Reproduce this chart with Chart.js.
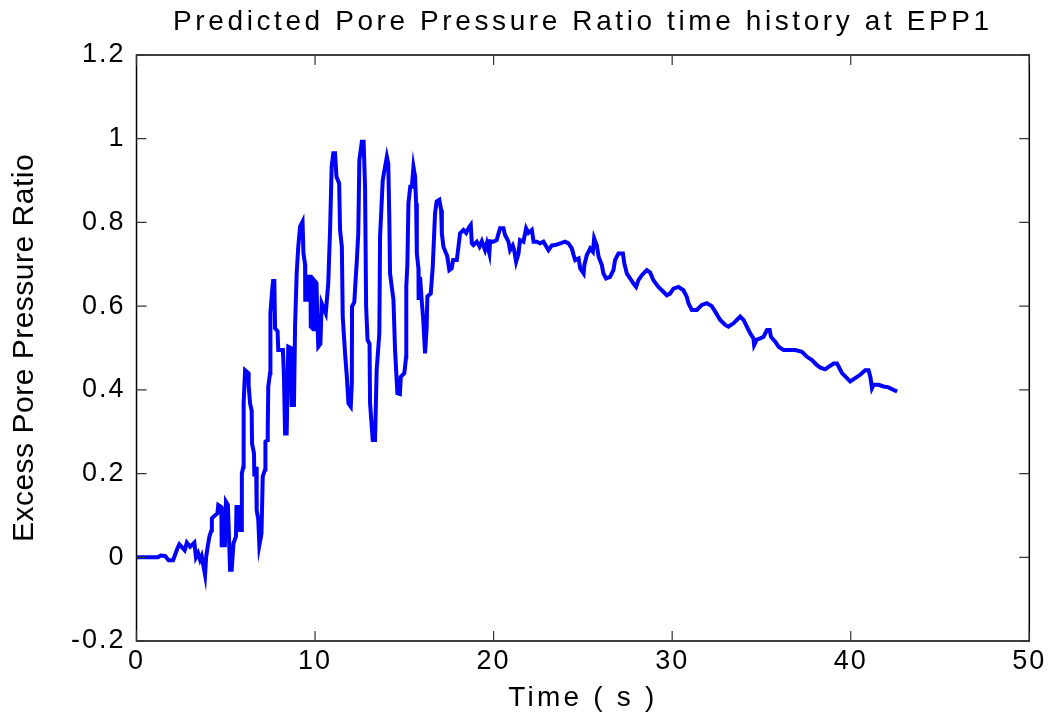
<!DOCTYPE html>
<html>
<head>
<meta charset="utf-8">
<title>Predicted Pore Pressure Ratio time history at EPP1</title>
<script src="https://cdn.jsdelivr.net/npm/chart.js@4.4.1/dist/chart.umd.min.js"></script>
<style>
  html, body { margin: 0; padding: 0; background: #fff; }
  #wrap { width: 1052px; height: 723px; }
</style>
</head>
<body>
<div id="wrap"><canvas id="eppChart" width="1052" height="723"></canvas></div>
<script>
// time (s)
const timeSec = [
  0, 1.2, 1.35, 1.6, 1.8, 2.05, 2.3, 2.4, 2.7, 2.82, 3.0, 3.24, 3.33, 3.45, 3.56, 3.65, 3.84, 3.9, 3.97,
  4.08, 4.2, 4.22, 4.53, 4.58, 4.75, 4.77, 4.95, 5.01, 5.12, 5.24, 5.33, 5.43, 5.57, 5.6, 5.78, 5.8,
  5.89, 5.9, 5.98, 6.0, 6.08, 6.27, 6.28, 6.36, 6.45, 6.47, 6.58, 6.6, 6.7, 6.73, 6.82, 6.88, 7.0,
  7.07, 7.2, 7.22, 7.33, 7.35, 7.38, 7.48, 7.5, 7.6, 7.65, 7.72, 7.76, 7.9, 7.94, 8.2, 8.26, 8.32,
  8.41, 8.5, 8.64, 8.69, 8.82, 8.88, 8.97, 9.06, 9.16, 9.3, 9.35, 9.44, 9.45, 9.6, 9.63, 9.74, 9.76,
  9.9, 9.94, 10.08, 10.12, 10.18, 10.3, 10.37, 10.6, 10.74, 10.84, 10.93, 11.02, 11.12, 11.2, 11.35,
  11.4, 11.5, 11.55, 11.68, 11.78, 11.87, 12.0, 12.06, 12.07, 12.2, 12.26, 12.33, 12.42, 12.48,
  12.62, 12.72, 12.8, 12.86, 12.94, 13.05, 13.08, 13.23, 13.36, 13.45, 13.6, 13.64, 13.79, 13.92,
  14.02, 14.1, 14.16, 14.2, 14.39, 14.48, 14.61, 14.75, 14.8, 15.0, 15.1, 15.11, 15.17, 15.23,
  15.33, 15.42, 15.51, 15.6, 15.66, 15.7, 15.79, 15.8, 15.88, 15.97, 16.06, 16.16, 16.25, 16.29,
  16.48, 16.59, 16.72, 16.81, 16.96, 17.06, 17.1, 17.19, 17.3, 17.4, 17.52, 17.65, 17.73, 17.94,
  18.03, 18.12, 18.31, 18.46, 18.59, 18.72, 18.78, 18.87, 19.06, 19.21, 19.34, 19.52, 19.62, 19.76,
  19.8, 19.99, 20.17, 20.36, 20.55, 20.64, 20.83, 20.92, 21.07, 21.15, 21.26, 21.39, 21.48, 21.67,
  21.82, 21.95, 22.14, 22.24, 22.42, 22.6, 22.79, 23.07, 23.26, 23.45, 23.73, 24.0, 24.19, 24.38,
  24.48, 24.57, 24.76, 24.85, 25.04, 25.08, 25.22, 25.41, 25.56, 25.63, 25.78, 25.88, 26.06, 26.15,
  26.3, 26.52, 26.71, 26.8, 26.99, 27.24, 27.32, 27.46, 27.65, 27.83, 27.98, 28.11, 28.3, 28.58,
  28.77, 28.95, 29.23, 29.42, 29.7, 29.88, 30.07, 30.35, 30.63, 30.82, 30.91, 31.1, 31.38, 31.66,
  31.94, 32.22, 32.41, 32.69, 32.97, 33.15, 33.43, 33.62, 33.81, 34.0, 34.18, 34.37, 34.55, 34.59,
  34.74, 34.93, 35.12, 35.31, 35.46, 35.53, 35.77, 35.96, 36.24, 36.61, 36.89, 37.27, 37.55, 37.83,
  38.11, 38.3, 38.57, 38.76, 39.04, 39.23, 39.38, 39.51, 39.79, 39.97, 40.25, 40.53, 40.81, 41.0,
  41.1, 41.19, 41.28, 41.56, 41.84, 42.12, 42.49, 42.6
];
// excess pore pressure ratio at EPP1
const poreRatio = [
  0, 0, 0.004, 0.003, -0.007, -0.007, 0.022, 0.031, 0.017, 0.035, 0.025, 0.035, 0.0, 0.01, -0.006, 0.003, -0.042, 0.0, 0.021,
  0.049, 0.065, 0.093, 0.105, 0.125, 0.12, 0.029, 0.029, 0.133, 0.125, -0.03, -0.03, 0.033, 0.05, 0.12, 0.12, 0.065,
  0.065, 0.2, 0.216, 0.368, 0.447, 0.44, 0.41, 0.368, 0.35, 0.272, 0.248, 0.193, 0.216, 0.113, 0.09, 0.029, 0.057,
  0.193, 0.21, 0.276, 0.28, 0.304, 0.408, 0.44, 0.583, 0.64, 0.66, 0.66, 0.547, 0.54, 0.495, 0.495, 0.431, 0.296,
  0.296, 0.503, 0.5, 0.364, 0.364, 0.551, 0.678, 0.742, 0.79, 0.802, 0.726, 0.7, 0.615, 0.615, 0.67, 0.67, 0.551,
  0.545, 0.662, 0.655, 0.583, 0.503, 0.51, 0.607, 0.583, 0.655, 0.782, 0.933, 0.965, 0.965, 0.909, 0.893,
  0.782, 0.742, 0.575, 0.487, 0.431, 0.368, 0.36, 0.416, 0.599, 0.61, 0.655, 0.702, 0.774, 0.949,
  0.993, 0.993, 0.885, 0.599, 0.519, 0.51, 0.368, 0.28, 0.28, 0.447, 0.535, 0.766, 0.901, 0.933,
  0.957, 0.94, 0.806, 0.678, 0.615, 0.495, 0.392, 0.39, 0.431, 0.44, 0.479, 0.647, 0.7, 0.846,
  0.885, 0.885, 0.933, 0.91, 0.846, 0.726, 0.69, 0.615, 0.67, 0.615, 0.567, 0.487, 0.55, 0.623,
  0.63, 0.694, 0.822, 0.85, 0.854, 0.83, 0.774, 0.742, 0.73, 0.72, 0.686, 0.69, 0.71, 0.71,
  0.742, 0.774, 0.782, 0.775, 0.786, 0.794, 0.75, 0.746, 0.754, 0.742, 0.755, 0.734, 0.75, 0.726,
  0.755, 0.754, 0.758, 0.786, 0.786, 0.77, 0.754, 0.734, 0.745, 0.734, 0.706, 0.725, 0.758, 0.754,
  0.786, 0.775, 0.782, 0.754, 0.754, 0.75, 0.754, 0.734, 0.745, 0.746, 0.75, 0.754, 0.75, 0.738,
  0.722, 0.71, 0.714, 0.69, 0.678, 0.698, 0.722, 0.738, 0.73, 0.762, 0.745, 0.718, 0.698, 0.678,
  0.666, 0.67, 0.686, 0.71, 0.726, 0.726, 0.702, 0.678, 0.666, 0.654, 0.646, 0.662, 0.674, 0.686,
  0.68, 0.662, 0.646, 0.638, 0.626, 0.63, 0.642, 0.646, 0.638, 0.622, 0.607, 0.591, 0.591, 0.603,
  0.607, 0.6, 0.587, 0.567, 0.555, 0.551, 0.559, 0.567, 0.575, 0.567, 0.551, 0.535, 0.523, 0.507,
  0.52, 0.523, 0.527, 0.543, 0.543, 0.527, 0.515, 0.503, 0.495, 0.495, 0.495, 0.491, 0.479, 0.471,
  0.459, 0.453, 0.449, 0.455, 0.463, 0.463, 0.451, 0.44, 0.428, 0.42, 0.428, 0.436, 0.447, 0.447,
  0.431, 0.404, 0.412, 0.412, 0.408, 0.406, 0.398, 0.396
];
const xTicks = [0, 10, 20, 30, 40, 50];
const yTicks = [-0.2, 0, 0.2, 0.4, 0.6, 0.8, 1, 1.2];

const points = timeSec.map((t, i) => ({x: t, y: poreRatio[i]}));

Chart.defaults.font.family = '"Liberation Sans", Arial, Helvetica, sans-serif';
Chart.defaults.color = '#000';

// run a scale's draw step with its own letter spacing (matlab spreads its text out)
function spaced(scale, name, px) {
  if (scale['_sp_' + name]) return;
  const orig = scale[name];
  scale[name] = function (...args) {
    const prev = this.ctx.letterSpacing;
    this.ctx.letterSpacing = px;
    orig.apply(this, args);
    this.ctx.letterSpacing = prev;
  };
  scale['_sp_' + name] = true;
}

// closed box with ticks pointing inwards
const matlabBox = {
  id: 'matlabBox',
  beforeDraw(chart) { chart.ctx.letterSpacing = '3.6px'; },
  afterDraw(chart) {
    const ctx = chart.ctx;
    const a = chart.chartArea;
    const xs = chart.scales.x, ys = chart.scales.y;
    ctx.save();
    ctx.strokeStyle = '#000';
    ctx.lineWidth = 1.5;
    ctx.strokeRect(a.left, a.top, a.right - a.left, a.bottom - a.top);
    ctx.strokeStyle = '#333';
    ctx.lineWidth = 1.2;
    ctx.beginPath();
    yTicks.forEach(v => {
      const py = ys.getPixelForValue(v);
      ctx.moveTo(a.left, py); ctx.lineTo(a.left + 10, py);
      ctx.moveTo(a.right, py); ctx.lineTo(a.right - 10, py);
    });
    xTicks.forEach(v => {
      const px = xs.getPixelForValue(v);
      ctx.moveTo(px, a.bottom); ctx.lineTo(px, a.bottom - 10);
      ctx.moveTo(px, a.top); ctx.lineTo(px, a.top + 10);
    });
    ctx.stroke();
    ctx.restore();
  }
};

new Chart(document.getElementById('eppChart'), {
  type: 'line',
  data: {
    datasets: [{
      label: 'EPP1',
      data: points,
      borderColor: '#0000ff',
      borderWidth: 4,
      pointRadius: 0,
      tension: 0,
      fill: false
    }]
  },
  options: {
    responsive: false,
    animation: false,
    layout: {padding: {left: 0, right: 22.7, top: 0, bottom: 0}},
    scales: {
      x: {
        type: 'linear',
        min: 0,
        max: 50,
        afterFit: s => {
          s.height = 82;
          spaced(s, 'drawLabels', '2px');
          spaced(s, 'drawTitle', '3.2px');
        },
        afterBuildTicks: s => { s.ticks = xTicks.map(v => ({value: v})); },
        ticks: {font: {size: 27}, padding: 4, maxRotation: 0, callback: v => String(v)},
        grid: {display: false, drawTicks: false},
        border: {display: false},
        title: {display: true, text: 'Time ( s )', font: {size: 28}, padding: {top: 0, bottom: 8}}
      },
      y: {
        type: 'linear',
        min: -0.2,
        max: 1.2,
        afterFit: s => {
          s.width = 136.5;
          spaced(s, 'drawLabels', '2px');
          spaced(s, 'drawTitle', '0.5px');
        },
        afterBuildTicks: s => { s.ticks = yTicks.map(v => ({value: v})); },
        ticks: {font: {size: 27}, padding: 11, callback: v => String(Math.round(v * 10) / 10)},
        grid: {display: false, drawTicks: false},
        border: {display: false},
        title: {display: true, text: 'Excess Pore Pressure Ratio', font: {size: 30}, padding: {top: 7, bottom: 0}}
      }
    },
    plugins: {
      legend: {display: false},
      tooltip: {enabled: false},
      title: {
        display: true,
        fullSize: false,
        text: 'Predicted Pore Pressure Ratio time history at EPP1',
        font: {size: 28, weight: 'normal'},
        color: '#000',
        padding: {top: 5.2, bottom: 16.2}
      }
    }
  },
  plugins: [matlabBox]
});
</script>
</body>
</html>
